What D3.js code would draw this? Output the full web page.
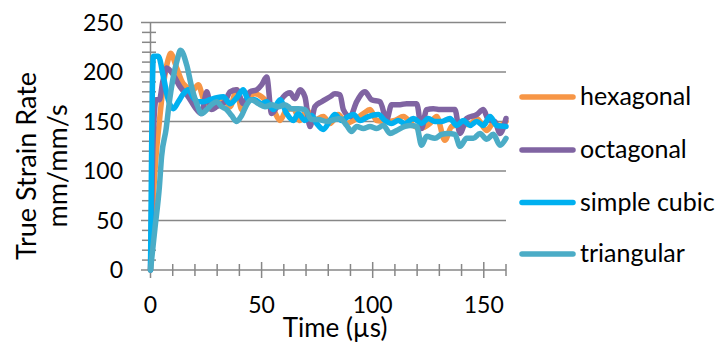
<!DOCTYPE html>
<html>
<head>
<meta charset="utf-8">
<script src="https://cdn.jsdelivr.net/npm/d3@7"></script>
<style>
  html, body { margin: 0; padding: 0; background: #fff; }
  svg { display: block; }
  text { font-family: Lato, "Liberation Sans", sans-serif; fill: #000; }
</style>
</head>
<body>
<svg id="chart" width="716" height="343"></svg>
<script>
// ---- data ----
const seriesNames = ["hexagonal", "octagonal", "simple cubic", "triangular"];

const hexagonalT = [0,1,2,4,6,8,9,11.8,14.8,19.3,21.5,23.8,26.8,29.8,32.8,35.8,38.8,41,44,47,50,52.3,55.3,58.3,61.3,64.3,67.3,70.3,73.3,77.8,80.8,84.5,88.3,91.3,95.8,98.8,101.8,106.3,110,113.8,118.3,121.3,125.8,128.8,132.5,135.5,139.3,143.8,146.8,151.3,154.3,157.3,160];
const hexagonalV = [0,60,100,150,190,213,219,204,188,182,187,173,163,167,173,165,182,162,173,178,175,170,162,151,162,163,151,162,151,155,148,157,148,151,158,162,151,150,151,155,146,143,148,155,131,145,147,147,153,141,148,146,150];

const octagonalT = [0,1,2.5,4,5.5,7.3,10.3,13.3,17,20.8,23,25.3,27.5,29.8,33.5,35.8,38.8,41.8,44.8,47.8,50,52.3,54.5,57.5,59.8,62.8,65,67.3,69.5,71.8,74,77,80.8,83,85.3,86.8,89.8,92.8,96.5,99.5,103.3,106.3,108.5,112.3,115.3,119.8,122,124.3,127.3,130.3,134,137,139.3,142.3,146.8,149.8,152,155,157.3,160];
const octagonalV = [0,120,172,172,190,204,197,185,175,162,158,180,162,165,170,180,182,168,180,182,187,195,158,167,175,179,173,182,175,145,165,170,175,178,177,162,155,170,180,172,170,152,167,167,168,168,143,162,163,162,162,162,138,153,157,162,152,150,138,153];

const simpleCubicT = [0,0.5,1.3,3.5,5.8,8,10.3,12.5,14.8,17,19.3,21.5,24,26.8,29.8,32.8,35.8,38.8,41.8,44,47,50,52.3,55.3,58.3,61.3,64.3,66.5,69.5,72.5,74.8,77.8,80.8,83,86,89,91.3,94.3,98,102.5,105.5,108.5,111.5,114.5,118.3,122,125,128,131,134.8,137.8,140.8,143.8,146.8,149.8,152.8,155.8,160];
const simpleCubicV = [0,121,216,216,195,172,163,170,178,182,174,170,170,172,174,175,168,174,182,172,172,168,170,162,172,158,151,158,151,156,148,142,151,157,151,155,157,151,155,157,151,148,151,148,153,148,153,150,150,153,146,151,146,150,146,155,146,145];

const triangularT = [0,1,2,4,5,7,8.5,10,12,13.5,16.3,18.5,20.8,23,25.3,27.5,29.8,32,34.3,36.5,38.8,41,43.3,45.5,48.5,51.5,54.5,57.5,60.5,63.5,66.5,69.5,72.5,75.5,79.3,83,85.3,88.3,90.5,92.8,95.8,98.8,101.8,104.8,107.8,110.8,114.5,116.8,119.8,122,124.3,128,131,134,137,139.3,142.3,145.3,148.3,151.3,154.3,157.3,160];
const triangularV = [0,21,42,84,115,142,170,192,212,222,207,185,168,158,162,167,170,165,162,156,150,156,167,172,168,165,167,165,167,163,163,162,152,152,150,152,153,146,140,145,143,145,143,146,138,141,145,146,145,126,135,133,137,138,137,125,133,133,138,132,137,126,133];

const xTickLabels = [0, 50, 100, 150];
const yTickLabels = [0, 50, 100, 150, 200, 250];
const xTitle = "Time (µs)";
const yTitleLines = ["True Strain Rate", "mm/mm/s"];

// ---- styling ----
const colors = ["#F79646", "#8064A2", "#00B0F0", "#4BACC6"];
const gridColor = "#878787";

const svg = d3.select("#chart");
const x = d3.scaleLinear().domain([0, 160]).range([150.5, 506]);
const y = d3.scaleLinear().domain([0, 250]).range([270, 22.5]);

const series = [
  { name: seriesNames[0], t: hexagonalT, v: hexagonalV },
  { name: seriesNames[1], t: octagonalT, v: octagonalV },
  { name: seriesNames[2], t: simpleCubicT, v: simpleCubicV },
  { name: seriesNames[3], t: triangularT, v: triangularV }
];

// gridlines
svg.append("g").selectAll("line")
  .data(yTickLabels.filter(d => d > 0))
  .join("line")
  .attr("x1", 141).attr("x2", x(160))
  .attr("y1", d => y(d)).attr("y2", d => y(d))
  .attr("stroke", gridColor).attr("stroke-width", 1.5);

// y minor ticks
svg.append("g").selectAll("line")
  .data(d3.range(0, 251, 10).filter(d => d % 50 !== 0))
  .join("line")
  .attr("x1", 142).attr("x2", 156)
  .attr("y1", d => y(d)).attr("y2", d => y(d))
  .attr("stroke", gridColor).attr("stroke-width", 1.5);

// x ticks
svg.append("g").selectAll("line")
  .data(d3.range(0, 161, 10))
  .join("line")
  .attr("x1", d => x(d)).attr("x2", d => x(d))
  .attr("y1", d => d % 50 === 0 ? 262 : 264)
  .attr("y2", d => d % 50 === 0 ? 278 : 276)
  .attr("stroke", gridColor).attr("stroke-width", 1.5);

// axis lines
svg.append("line").attr("x1", 141).attr("x2", x(160)).attr("y1", y(0)).attr("y2", y(0))
  .attr("stroke", gridColor).attr("stroke-width", 1.5);
svg.append("line").attr("x1", x(0)).attr("x2", x(0)).attr("y1", y(0)).attr("y2", y(250))
  .attr("stroke", gridColor).attr("stroke-width", 1.5);

// lines
const line = d3.line().x(d => x(d[0])).y(d => y(d[1])).curve(d3.curveMonotoneX);
svg.append("g").selectAll("path")
  .data(series)
  .join("path")
  .attr("d", s => line(s.t.map((t, i) => [t, s.v[i]])))
  .attr("fill", "none")
  .attr("stroke", (s, i) => colors[i])
  .attr("stroke-width", 5.5)
  .attr("stroke-linejoin", "round")
  .attr("stroke-linecap", "round");

// y tick labels
svg.append("g").selectAll("text")
  .data(yTickLabels)
  .join("text")
  .attr("x", 123).attr("y", d => y(d))
  .attr("dy", "0.36em")
  .attr("text-anchor", "end")
  .attr("font-size", 23)
  .text(d => d);

// x tick labels
svg.append("g").selectAll("text")
  .data(xTickLabels)
  .join("text")
  .attr("x", d => x(d)).attr("y", 313)
  .attr("text-anchor", "middle")
  .attr("font-size", 23)
  .text(d => d);

// x title
svg.append("text")
  .attr("x", 335).attr("y", 337)
  .attr("text-anchor", "middle")
  .attr("font-size", 26)
  .text(xTitle);

// y title
const yt = svg.append("text")
  .attr("transform", "translate(36,166) rotate(-90)")
  .attr("text-anchor", "middle")
  .attr("font-size", 27);
yt.append("tspan").attr("x", 0).attr("y", 0).text(yTitleLines[0]);
yt.append("tspan").attr("x", 0).attr("y", 31).text(yTitleLines[1]);

// legend
const legendY = [97, 150, 202.5, 254];
const lg = svg.append("g").selectAll("g")
  .data(series)
  .join("g")
  .attr("transform", (s, i) => `translate(0,${legendY[i]})`);
lg.append("line")
  .attr("x1", 522).attr("x2", 573).attr("y1", 0).attr("y2", 0)
  .attr("stroke", (s, i) => colors[i])
  .attr("stroke-width", 5.5)
  .attr("stroke-linecap", "round");
lg.append("text")
  .attr("x", 580).attr("y", 0).attr("dy", "0.32em")
  .attr("font-size", 25)
  .text(s => s.name);
</script>
</body>
</html>
